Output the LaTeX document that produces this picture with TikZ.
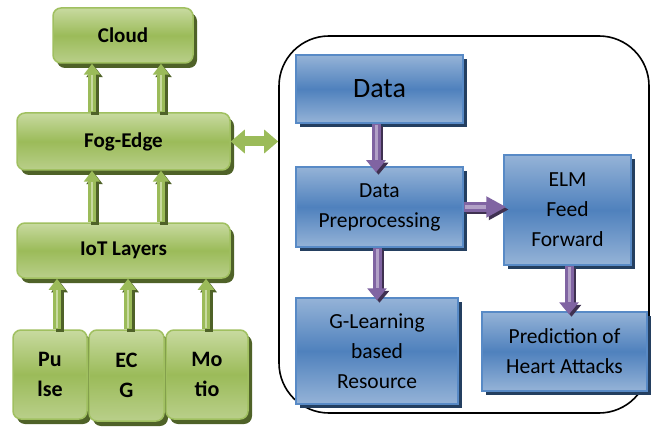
\documentclass[tikz,border=0pt]{standalone}
\usepackage{fontspec}
\setmainfont{Carlito}
\usetikzlibrary{arrows.meta,shadows,calc}

\definecolor{gtop}{RGB}{200,218,160}
\definecolor{gmid}{RGB}{155,187,89}
\definecolor{gbot}{RGB}{185,207,138}
\definecolor{gedge}{RGB}{160,192,96}
\definecolor{glight}{RGB}{200,218,160}
\definecolor{gshadow}{RGB}{79,98,40}
\definecolor{btop}{RGB}{149,179,215}
\definecolor{bmid}{RGB}{79,129,189}
\definecolor{bedge}{RGB}{88,138,198}
\definecolor{bshadow}{RGB}{36,63,96}
\definecolor{pmain}{RGB}{128,100,162}
\definecolor{plight}{RGB}{178,161,199}
\definecolor{pshadow}{RGB}{63,49,81}

% block arrow: shadow copy, body, light stripe along the shaft
\newcommand{\flowarrow}[5]{%
  \draw[#1, draw=#2, transform canvas={shift={(2.5pt,-2.5pt)}}] #4 -- #5;
  \draw[#1] #4 -- #5;
  \draw[#3] #4 -- #5;}

\tikzset{
  greenbox/.style={rounded corners=8pt, draw=gedge, line width=1.5pt,
    top color=gtop, bottom color=gbot, middle color=gmid,
    drop shadow={shadow xshift=4pt, shadow yshift=-5pt, fill=gshadow, opacity=1},
    font=\fontsize{21}{30}\selectfont\bfseries, align=center, inner sep=0pt},
  sensor/.style={greenbox, font=\fontsize{22}{30}\selectfont\bfseries},
  bluebox/.style={draw=bedge, line width=1.5pt,
    top color=btop, bottom color=btop, middle color=bmid,
    drop shadow={shadow xshift=4pt, shadow yshift=-4pt, fill=bshadow, opacity=1},
    font=\fontsize{21.5}{30}\selectfont, align=center, inner sep=0pt},
  frame/.style={draw=black, line width=1.6pt, rounded corners=50pt, inner sep=0pt},
  garrow/.style={draw=gmid, line width=8pt, -{Triangle[width=16pt,length=11pt]}},
  gstripe/.style={draw=glight, line width=2.5pt, shorten >=11pt, shorten <=1pt},
  parrow/.style={draw=pmain, line width=9pt, -{Triangle[width=19pt,length=12pt]}},
  pstripe/.style={draw=plight, line width=3pt, shorten >=12pt, shorten <=1pt},
  phoriz/.style={draw=pmain, line width=9pt, -{Triangle[width=20pt,length=20pt]}},
  phstripe/.style={draw=plight, line width=3pt, shorten >=20pt, shorten <=1pt},
  gdouble/.style={draw=gmid, line width=10pt,
    {Triangle[width=23pt,length=14pt]}-{Triangle[width=23pt,length=14pt]}},
}

\begin{document}
\begin{tikzpicture}[x=1pt,y=-1pt]
\useasboundingbox (0,0) rectangle (652,430);
\fill[white] (0,0) rectangle (652,430);

% surrounding frame of the analytics part
\node[frame, minimum width=370pt, minimum height=377pt] (frame) at (464,224.5) {};

% layered architecture
\node[greenbox, minimum width=140pt, minimum height=55pt] (cloud) at (123,35.5) {Cloud};
\node[greenbox, minimum width=213pt, minimum height=57pt] (fog) at (123.5,141.5) {Fog-Edge};
\node[greenbox, minimum width=213pt, minimum height=55pt] (iot) at (123.5,250.5) {IoT Layers};
\node[sensor, minimum width=74pt, minimum height=89pt] (pulse) at (50,374.5) {Pu\\lse};
\node[sensor, minimum width=75pt, minimum height=91pt] (ecg) at (126.5,375.5) {EC\\G};
\node[sensor, minimum width=82pt, minimum height=89pt] (motio) at (207,374.5) {Mo\\tio};

% processing blocks
\node[bluebox, minimum width=167pt, minimum height=68pt, font=\fontsize{28}{32}\selectfont] (data) at (379.5,89) {Data};
\node[bluebox, minimum width=167pt, minimum height=80pt] (dp) at (379.5,207) {Data\\Preprocessing};
\node[bluebox, minimum width=127pt, minimum height=110pt] (elm) at (567.5,210) {ELM\\Feed\\Forward};
\node[bluebox, minimum width=162pt, minimum height=106pt] (gl) at (377,351) {G-Learning\\based\\Resource};
\node[bluebox, minimum width=165pt, minimum height=79pt] (pred) at (564.5,351.5) {Prediction of\\Heart Attacks};

% arrow columns
\coordinate (xa) at (92,0);
\coordinate (xb) at (161,0);
\coordinate (xs1) at (57,0);
\coordinate (xs2) at (128,0);
\coordinate (xs3) at (206,0);
\coordinate (xp1) at (376,0);
\coordinate (xp2) at (377,0);
\coordinate (xp3) at (569,0);

% upward links between layers
\flowarrow{garrow}{gshadow}{gstripe}{(fog.north -| xa)}{(cloud.south -| xa)}
\flowarrow{garrow}{gshadow}{gstripe}{(fog.north -| xb)}{(cloud.south -| xb)}
\flowarrow{garrow}{gshadow}{gstripe}{(iot.north -| xa)}{(fog.south -| xa)}
\flowarrow{garrow}{gshadow}{gstripe}{(iot.north -| xb)}{(fog.south -| xb)}
\flowarrow{garrow}{gshadow}{gstripe}{(pulse.north -| xs1)}{(iot.south -| xs1)}
\flowarrow{garrow}{gshadow}{gstripe}{(ecg.north -| xs2)}{(iot.south -| xs2)}
\flowarrow{garrow}{gshadow}{gstripe}{(motio.north -| xs3)}{(iot.south -| xs3)}

% exchange between fog layer and analytics
\draw[gdouble] (fog.east) -- (frame.west |- fog.east);

% analytics flow
\flowarrow{parrow}{pshadow}{pstripe}{(data.south -| xp1)}{($(dp.north -| xp1)+(0,6)$)}
\flowarrow{parrow}{pshadow}{pstripe}{(dp.south -| xp2)}{($(gl.north -| xp2)+(0,3)$)}
\flowarrow{parrow}{pshadow}{pstripe}{(elm.south -| xp3)}{($(pred.north -| xp3)+(0,3)$)}
\flowarrow{phoriz}{pshadow}{phstripe}{(dp.east)}{($(elm.west |- dp.east)+(3,0)$)}
\end{tikzpicture}
\end{document}
